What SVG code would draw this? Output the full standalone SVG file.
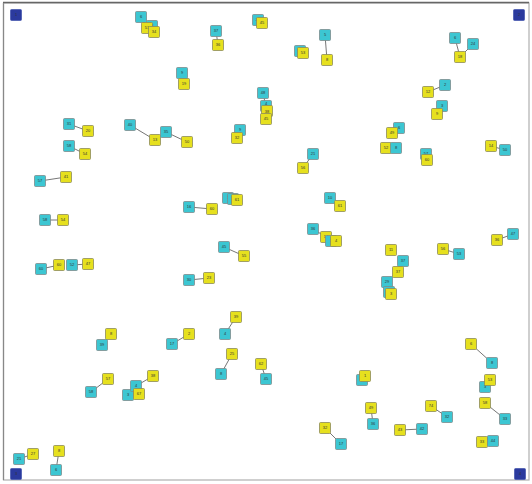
<svg xmlns="http://www.w3.org/2000/svg" width="532" height="484" viewBox="0 0 532 484">
<style>
.c{fill:#3cc6d2;stroke:#7d8c8c;stroke-width:0.8}
.y{fill:#e6e01e;stroke:#8c8a5a;stroke-width:0.8}
.b{fill:#2b3a9e;stroke:#4a5ab0;stroke-width:0.8}
text{font-family:"Liberation Sans",Arial,sans-serif;font-size:4px;fill:#333;text-anchor:middle}
.e line{stroke:#666;stroke-width:0.9}
</style>
<rect x="0" y="0" width="532" height="484" fill="#fff"/>
<rect x="3.5" y="3" width="525.5" height="477" fill="none" stroke="#b0b0b0" stroke-width="1.2"/>
<line x1="3" y1="2.5" x2="529" y2="2.5" stroke="#666" stroke-width="1.5"/>
<line x1="3.5" y1="3" x2="3.5" y2="480" stroke="#888" stroke-width="1.2"/>
<g class="e" id="edges">
<line x1="141" y1="17" x2="147" y2="28"/>
<line x1="216" y1="31" x2="218" y2="45"/>
<line x1="325" y1="35" x2="327" y2="60"/>
<line x1="455" y1="38" x2="460" y2="57"/>
<line x1="473" y1="44" x2="460" y2="57"/>
<line x1="182" y1="73" x2="184" y2="84"/>
<line x1="445" y1="85" x2="428" y2="92"/>
<line x1="263" y1="93" x2="266" y2="107"/>
<line x1="69" y1="124" x2="88" y2="131"/>
<line x1="130" y1="125" x2="155" y2="140"/>
<line x1="166" y1="132" x2="187" y2="142"/>
<line x1="69" y1="146" x2="85" y2="154"/>
<line x1="491" y1="146" x2="505" y2="150"/>
<line x1="313" y1="154" x2="303" y2="168"/>
<line x1="40" y1="181" x2="66" y2="177"/>
<line x1="330" y1="198" x2="340" y2="206"/>
<line x1="189" y1="207" x2="212" y2="209"/>
<line x1="45" y1="220" x2="63" y2="220"/>
<line x1="313" y1="229" x2="326" y2="237"/>
<line x1="513" y1="234" x2="497" y2="240"/>
<line x1="224" y1="247" x2="244" y2="256"/>
<line x1="443" y1="249" x2="459" y2="254"/>
<line x1="398" y1="272" x2="387" y2="282"/>
<line x1="41" y1="269" x2="59" y2="265"/>
<line x1="72" y1="265" x2="88" y2="264"/>
<line x1="189" y1="280" x2="209" y2="278"/>
<line x1="236" y1="317" x2="225" y2="334"/>
<line x1="111" y1="334" x2="102" y2="345"/>
<line x1="189" y1="334" x2="172" y2="344"/>
<line x1="471" y1="344" x2="492" y2="363"/>
<line x1="232" y1="354" x2="221" y2="374"/>
<line x1="261" y1="364" x2="266" y2="379"/>
<line x1="153" y1="376" x2="136" y2="386"/>
<line x1="108" y1="379" x2="91" y2="392"/>
<line x1="485" y1="403" x2="505" y2="419"/>
<line x1="431" y1="406" x2="447" y2="417"/>
<line x1="371" y1="408" x2="373" y2="424"/>
<line x1="325" y1="428" x2="341" y2="444"/>
<line x1="400" y1="430" x2="422" y2="429"/>
<line x1="33" y1="454" x2="19" y2="459"/>
<line x1="59" y1="451" x2="56" y2="470"/>
</g>
<g id="b1" transform="translate(16,15)"><rect class="b" x="-5.5" y="-5.5" width="11" height="11" rx="1"/><text y="1.4">1</text></g>
<g id="b2" transform="translate(519,15)"><rect class="b" x="-5.5" y="-5.5" width="11" height="11" rx="1"/><text y="1.4">2</text></g>
<g id="b3" transform="translate(16,474)"><rect class="b" x="-5.5" y="-5.5" width="11" height="11" rx="1"/><text y="1.4">3</text></g>
<g id="b4" transform="translate(520,474)"><rect class="b" x="-5.5" y="-5.5" width="11" height="11" rx="1"/><text y="1.4">4</text></g>
<g id="n1" transform="translate(141,17)"><rect class="c" x="-5.5" y="-5.5" width="11" height="11" rx="1"/><text y="1.4">6</text></g>
<g id="n2" transform="translate(152,26)"><rect class="c" x="-5.5" y="-5.5" width="11" height="11" rx="1"/><text y="1.4">8</text></g>
<g id="n3" transform="translate(147,28)"><rect class="y" x="-5.5" y="-5.5" width="11" height="11" rx="1"/><text y="1.4">51</text></g>
<g id="n4" transform="translate(154,32)"><rect class="y" x="-5.5" y="-5.5" width="11" height="11" rx="1"/><text y="1.4">34</text></g>
<g id="n5" transform="translate(216,31)"><rect class="c" x="-5.5" y="-5.5" width="11" height="11" rx="1"/><text y="1.4">37</text></g>
<g id="n6" transform="translate(218,45)"><rect class="y" x="-5.5" y="-5.5" width="11" height="11" rx="1"/><text y="1.4">36</text></g>
<g id="n7" transform="translate(258,20)"><rect class="c" x="-5.5" y="-5.5" width="11" height="11" rx="1"/><text y="1.4">23</text></g>
<g id="n8" transform="translate(262,23)"><rect class="y" x="-5.5" y="-5.5" width="11" height="11" rx="1"/><text y="1.4">45</text></g>
<g id="n9" transform="translate(300,51)"><rect class="c" x="-5.5" y="-5.5" width="11" height="11" rx="1"/><text y="1.4">60</text></g>
<g id="n10" transform="translate(303,53)"><rect class="y" x="-5.5" y="-5.5" width="11" height="11" rx="1"/><text y="1.4">53</text></g>
<g id="n11" transform="translate(325,35)"><rect class="c" x="-5.5" y="-5.5" width="11" height="11" rx="1"/><text y="1.4">5</text></g>
<g id="n12" transform="translate(327,60)"><rect class="y" x="-5.5" y="-5.5" width="11" height="11" rx="1"/><text y="1.4">8</text></g>
<g id="n13" transform="translate(455,38)"><rect class="c" x="-5.5" y="-5.5" width="11" height="11" rx="1"/><text y="1.4">6</text></g>
<g id="n14" transform="translate(473,44)"><rect class="c" x="-5.5" y="-5.5" width="11" height="11" rx="1"/><text y="1.4">24</text></g>
<g id="n15" transform="translate(460,57)"><rect class="y" x="-5.5" y="-5.5" width="11" height="11" rx="1"/><text y="1.4">18</text></g>
<g id="n16" transform="translate(182,73)"><rect class="c" x="-5.5" y="-5.5" width="11" height="11" rx="1"/><text y="1.4">9</text></g>
<g id="n17" transform="translate(184,84)"><rect class="y" x="-5.5" y="-5.5" width="11" height="11" rx="1"/><text y="1.4">19</text></g>
<g id="n18" transform="translate(445,85)"><rect class="c" x="-5.5" y="-5.5" width="11" height="11" rx="1"/><text y="1.4">2</text></g>
<g id="n19" transform="translate(428,92)"><rect class="y" x="-5.5" y="-5.5" width="11" height="11" rx="1"/><text y="1.4">12</text></g>
<g id="n20" transform="translate(263,93)"><rect class="c" x="-5.5" y="-5.5" width="11" height="11" rx="1"/><text y="1.4">48</text></g>
<g id="n21" transform="translate(266,106)"><rect class="c" x="-5.5" y="-5.5" width="11" height="11" rx="1"/><text y="-1.5">4</text></g>
<g id="n22" transform="translate(267,111)"><rect class="y" x="-5.5" y="-5.5" width="11" height="11" rx="1"/><text y="1.6">38</text></g>
<g id="n23" transform="translate(266,119)"><rect class="y" x="-5.5" y="-5.5" width="11" height="11" rx="1"/><text y="1.4">45</text></g>
<g id="n24" transform="translate(442,106)"><rect class="c" x="-5.5" y="-5.5" width="11" height="11" rx="1"/><text y="1.4">3</text></g>
<g id="n25" transform="translate(437,114)"><rect class="y" x="-5.5" y="-5.5" width="11" height="11" rx="1"/><text y="1.4">9</text></g>
<g id="n26" transform="translate(69,124)"><rect class="c" x="-5.5" y="-5.5" width="11" height="11" rx="1"/><text y="1.4">31</text></g>
<g id="n27" transform="translate(88,131)"><rect class="y" x="-5.5" y="-5.5" width="11" height="11" rx="1"/><text y="1.4">20</text></g>
<g id="n28" transform="translate(130,125)"><rect class="c" x="-5.5" y="-5.5" width="11" height="11" rx="1"/><text y="1.4">40</text></g>
<g id="n29" transform="translate(155,140)"><rect class="y" x="-5.5" y="-5.5" width="11" height="11" rx="1"/><text y="1.4">13</text></g>
<g id="n30" transform="translate(166,132)"><rect class="c" x="-5.5" y="-5.5" width="11" height="11" rx="1"/><text y="1.4">35</text></g>
<g id="n31" transform="translate(187,142)"><rect class="y" x="-5.5" y="-5.5" width="11" height="11" rx="1"/><text y="1.4">50</text></g>
<g id="n32" transform="translate(240,130)"><rect class="c" x="-5.5" y="-5.5" width="11" height="11" rx="1"/><text y="1.4">9</text></g>
<g id="n33" transform="translate(237,138)"><rect class="y" x="-5.5" y="-5.5" width="11" height="11" rx="1"/><text y="1.4">32</text></g>
<g id="n34" transform="translate(399,128)"><rect class="c" x="-5.5" y="-5.5" width="11" height="11" rx="1"/><text y="1.4">6</text></g>
<g id="n35" transform="translate(392,133)"><rect class="y" x="-5.5" y="-5.5" width="11" height="11" rx="1"/><text y="1.4">49</text></g>
<g id="n36" transform="translate(69,146)"><rect class="c" x="-5.5" y="-5.5" width="11" height="11" rx="1"/><text y="1.4">58</text></g>
<g id="n37" transform="translate(85,154)"><rect class="y" x="-5.5" y="-5.5" width="11" height="11" rx="1"/><text y="1.4">54</text></g>
<g id="n38" transform="translate(386,148)"><rect class="y" x="-5.5" y="-5.5" width="11" height="11" rx="1"/><text y="1.4">52</text></g>
<g id="n39" transform="translate(396,148)"><rect class="c" x="-5.5" y="-5.5" width="11" height="11" rx="1"/><text y="1.4">8</text></g>
<g id="n40" transform="translate(491,146)"><rect class="y" x="-5.5" y="-5.5" width="11" height="11" rx="1"/><text y="1.4">14</text></g>
<g id="n41" transform="translate(505,150)"><rect class="c" x="-5.5" y="-5.5" width="11" height="11" rx="1"/><text y="1.4">50</text></g>
<g id="n42" transform="translate(426,154)"><rect class="c" x="-5.5" y="-5.5" width="11" height="11" rx="1"/><text y="1.4">57</text></g>
<g id="n43" transform="translate(427,160)"><rect class="y" x="-5.5" y="-5.5" width="11" height="11" rx="1"/><text y="1.4">60</text></g>
<g id="n44" transform="translate(313,154)"><rect class="c" x="-5.5" y="-5.5" width="11" height="11" rx="1"/><text y="1.4">21</text></g>
<g id="n45" transform="translate(303,168)"><rect class="y" x="-5.5" y="-5.5" width="11" height="11" rx="1"/><text y="1.4">56</text></g>
<g id="n46" transform="translate(40,181)"><rect class="c" x="-5.5" y="-5.5" width="11" height="11" rx="1"/><text y="1.4">57</text></g>
<g id="n47" transform="translate(66,177)"><rect class="y" x="-5.5" y="-5.5" width="11" height="11" rx="1"/><text y="1.4">41</text></g>
<g id="n48" transform="translate(330,198)"><rect class="c" x="-5.5" y="-5.5" width="11" height="11" rx="1"/><text y="1.4">10</text></g>
<g id="n49" transform="translate(340,206)"><rect class="y" x="-5.5" y="-5.5" width="11" height="11" rx="1"/><text y="1.4">61</text></g>
<g id="n50" transform="translate(228,198)"><rect class="c" x="-5.5" y="-5.5" width="11" height="11" rx="1"/><text y="1.4">1</text></g>
<g id="n51" transform="translate(233,199)"><rect class="c" x="-5.5" y="-5.5" width="11" height="11" rx="1"/><text y="1.4">8</text></g>
<g id="n52" transform="translate(237,200)"><rect class="y" x="-5.5" y="-5.5" width="11" height="11" rx="1"/><text y="1.4">61</text></g>
<g id="n53" transform="translate(189,207)"><rect class="c" x="-5.5" y="-5.5" width="11" height="11" rx="1"/><text y="1.4">16</text></g>
<g id="n54" transform="translate(212,209)"><rect class="y" x="-5.5" y="-5.5" width="11" height="11" rx="1"/><text y="1.4">60</text></g>
<g id="n55" transform="translate(45,220)"><rect class="c" x="-5.5" y="-5.5" width="11" height="11" rx="1"/><text y="1.4">58</text></g>
<g id="n56" transform="translate(63,220)"><rect class="y" x="-5.5" y="-5.5" width="11" height="11" rx="1"/><text y="1.4">54</text></g>
<g id="n57" transform="translate(313,229)"><rect class="c" x="-5.5" y="-5.5" width="11" height="11" rx="1"/><text y="1.4">36</text></g>
<g id="n58" transform="translate(326,237)"><rect class="y" x="-5.5" y="-5.5" width="11" height="11" rx="1"/><text y="1.4">14</text></g>
<g id="n59" transform="translate(331,241)"><rect class="c" x="-5.5" y="-5.5" width="11" height="11" rx="1"/><text y="1.4">7</text></g>
<g id="n60" transform="translate(336,241)"><rect class="y" x="-5.5" y="-5.5" width="11" height="11" rx="1"/><text y="1.4">4</text></g>
<g id="n61" transform="translate(513,234)"><rect class="c" x="-5.5" y="-5.5" width="11" height="11" rx="1"/><text y="1.4">47</text></g>
<g id="n62" transform="translate(497,240)"><rect class="y" x="-5.5" y="-5.5" width="11" height="11" rx="1"/><text y="1.4">36</text></g>
<g id="n63" transform="translate(224,247)"><rect class="c" x="-5.5" y="-5.5" width="11" height="11" rx="1"/><text y="1.4">45</text></g>
<g id="n64" transform="translate(244,256)"><rect class="y" x="-5.5" y="-5.5" width="11" height="11" rx="1"/><text y="1.4">55</text></g>
<g id="n65" transform="translate(443,249)"><rect class="y" x="-5.5" y="-5.5" width="11" height="11" rx="1"/><text y="1.4">56</text></g>
<g id="n66" transform="translate(459,254)"><rect class="c" x="-5.5" y="-5.5" width="11" height="11" rx="1"/><text y="1.4">53</text></g>
<g id="n67" transform="translate(391,250)"><rect class="y" x="-5.5" y="-5.5" width="11" height="11" rx="1"/><text y="1.4">11</text></g>
<g id="n68" transform="translate(403,261)"><rect class="c" x="-5.5" y="-5.5" width="11" height="11" rx="1"/><text y="1.4">37</text></g>
<g id="n69" transform="translate(398,272)"><rect class="y" x="-5.5" y="-5.5" width="11" height="11" rx="1"/><text y="1.4">37</text></g>
<g id="n70" transform="translate(387,282)"><rect class="c" x="-5.5" y="-5.5" width="11" height="11" rx="1"/><text y="1.4">29</text></g>
<g id="n71" transform="translate(389,292)"><rect class="c" x="-5.5" y="-5.5" width="11" height="11" rx="1"/><text y="1.4">5</text></g>
<g id="n72" transform="translate(391,294)"><rect class="y" x="-5.5" y="-5.5" width="11" height="11" rx="1"/><text y="1.4">3</text></g>
<g id="n73" transform="translate(41,269)"><rect class="c" x="-5.5" y="-5.5" width="11" height="11" rx="1"/><text y="1.4">60</text></g>
<g id="n74" transform="translate(59,265)"><rect class="y" x="-5.5" y="-5.5" width="11" height="11" rx="1"/><text y="1.4">60</text></g>
<g id="n75" transform="translate(72,265)"><rect class="c" x="-5.5" y="-5.5" width="11" height="11" rx="1"/><text y="1.4">52</text></g>
<g id="n76" transform="translate(88,264)"><rect class="y" x="-5.5" y="-5.5" width="11" height="11" rx="1"/><text y="1.4">47</text></g>
<g id="n77" transform="translate(189,280)"><rect class="c" x="-5.5" y="-5.5" width="11" height="11" rx="1"/><text y="1.4">30</text></g>
<g id="n78" transform="translate(209,278)"><rect class="y" x="-5.5" y="-5.5" width="11" height="11" rx="1"/><text y="1.4">23</text></g>
<g id="n79" transform="translate(236,317)"><rect class="y" x="-5.5" y="-5.5" width="11" height="11" rx="1"/><text y="1.4">39</text></g>
<g id="n80" transform="translate(225,334)"><rect class="c" x="-5.5" y="-5.5" width="11" height="11" rx="1"/><text y="1.4">4</text></g>
<g id="n81" transform="translate(111,334)"><rect class="y" x="-5.5" y="-5.5" width="11" height="11" rx="1"/><text y="1.4">8</text></g>
<g id="n82" transform="translate(102,345)"><rect class="c" x="-5.5" y="-5.5" width="11" height="11" rx="1"/><text y="1.4">39</text></g>
<g id="n83" transform="translate(189,334)"><rect class="y" x="-5.5" y="-5.5" width="11" height="11" rx="1"/><text y="1.4">2</text></g>
<g id="n84" transform="translate(172,344)"><rect class="c" x="-5.5" y="-5.5" width="11" height="11" rx="1"/><text y="1.4">17</text></g>
<g id="n85" transform="translate(471,344)"><rect class="y" x="-5.5" y="-5.5" width="11" height="11" rx="1"/><text y="1.4">6</text></g>
<g id="n86" transform="translate(492,363)"><rect class="c" x="-5.5" y="-5.5" width="11" height="11" rx="1"/><text y="1.4">8</text></g>
<g id="n87" transform="translate(232,354)"><rect class="y" x="-5.5" y="-5.5" width="11" height="11" rx="1"/><text y="1.4">25</text></g>
<g id="n88" transform="translate(221,374)"><rect class="c" x="-5.5" y="-5.5" width="11" height="11" rx="1"/><text y="1.4">8</text></g>
<g id="n89" transform="translate(261,364)"><rect class="y" x="-5.5" y="-5.5" width="11" height="11" rx="1"/><text y="1.4">62</text></g>
<g id="n90" transform="translate(266,379)"><rect class="c" x="-5.5" y="-5.5" width="11" height="11" rx="1"/><text y="1.4">45</text></g>
<g id="n91" transform="translate(362,380)"><rect class="c" x="-5.5" y="-5.5" width="11" height="11" rx="1"/><text y="1.4">1</text></g>
<g id="n92" transform="translate(365,376)"><rect class="y" x="-5.5" y="-5.5" width="11" height="11" rx="1"/><text y="1.4">1</text></g>
<g id="n93" transform="translate(153,376)"><rect class="y" x="-5.5" y="-5.5" width="11" height="11" rx="1"/><text y="1.4">38</text></g>
<g id="n94" transform="translate(128,395)"><rect class="c" x="-5.5" y="-5.5" width="11" height="11" rx="1"/><text y="1.4">3</text></g>
<g id="n95" transform="translate(136,386)"><rect class="c" x="-5.5" y="-5.5" width="11" height="11" rx="1"/><text y="1.4">4</text></g>
<g id="n96" transform="translate(139,394)"><rect class="y" x="-5.5" y="-5.5" width="11" height="11" rx="1"/><text y="1.4">67</text></g>
<g id="n97" transform="translate(108,379)"><rect class="y" x="-5.5" y="-5.5" width="11" height="11" rx="1"/><text y="1.4">57</text></g>
<g id="n98" transform="translate(91,392)"><rect class="c" x="-5.5" y="-5.5" width="11" height="11" rx="1"/><text y="1.4">58</text></g>
<g id="n99" transform="translate(485,387)"><rect class="c" x="-5.5" y="-5.5" width="11" height="11" rx="1"/><text y="1.4">3</text></g>
<g id="n100" transform="translate(490,380)"><rect class="y" x="-5.5" y="-5.5" width="11" height="11" rx="1"/><text y="1.4">53</text></g>
<g id="n101" transform="translate(485,403)"><rect class="y" x="-5.5" y="-5.5" width="11" height="11" rx="1"/><text y="1.4">58</text></g>
<g id="n102" transform="translate(505,419)"><rect class="c" x="-5.5" y="-5.5" width="11" height="11" rx="1"/><text y="1.4">33</text></g>
<g id="n103" transform="translate(431,406)"><rect class="y" x="-5.5" y="-5.5" width="11" height="11" rx="1"/><text y="1.4">74</text></g>
<g id="n104" transform="translate(447,417)"><rect class="c" x="-5.5" y="-5.5" width="11" height="11" rx="1"/><text y="1.4">32</text></g>
<g id="n105" transform="translate(371,408)"><rect class="y" x="-5.5" y="-5.5" width="11" height="11" rx="1"/><text y="1.4">49</text></g>
<g id="n106" transform="translate(373,424)"><rect class="c" x="-5.5" y="-5.5" width="11" height="11" rx="1"/><text y="1.4">36</text></g>
<g id="n107" transform="translate(325,428)"><rect class="y" x="-5.5" y="-5.5" width="11" height="11" rx="1"/><text y="1.4">32</text></g>
<g id="n108" transform="translate(341,444)"><rect class="c" x="-5.5" y="-5.5" width="11" height="11" rx="1"/><text y="1.4">17</text></g>
<g id="n109" transform="translate(400,430)"><rect class="y" x="-5.5" y="-5.5" width="11" height="11" rx="1"/><text y="1.4">43</text></g>
<g id="n110" transform="translate(422,429)"><rect class="c" x="-5.5" y="-5.5" width="11" height="11" rx="1"/><text y="1.4">42</text></g>
<g id="n111" transform="translate(482,442)"><rect class="y" x="-5.5" y="-5.5" width="11" height="11" rx="1"/><text y="1.4">33</text></g>
<g id="n112" transform="translate(493,441)"><rect class="c" x="-5.5" y="-5.5" width="11" height="11" rx="1"/><text y="1.4">44</text></g>
<g id="n113" transform="translate(33,454)"><rect class="y" x="-5.5" y="-5.5" width="11" height="11" rx="1"/><text y="1.4">27</text></g>
<g id="n114" transform="translate(19,459)"><rect class="c" x="-5.5" y="-5.5" width="11" height="11" rx="1"/><text y="1.4">21</text></g>
<g id="n115" transform="translate(59,451)"><rect class="y" x="-5.5" y="-5.5" width="11" height="11" rx="1"/><text y="1.4">8</text></g>
<g id="n116" transform="translate(56,470)"><rect class="c" x="-5.5" y="-5.5" width="11" height="11" rx="1"/><text y="1.4">6</text></g>
</svg>
